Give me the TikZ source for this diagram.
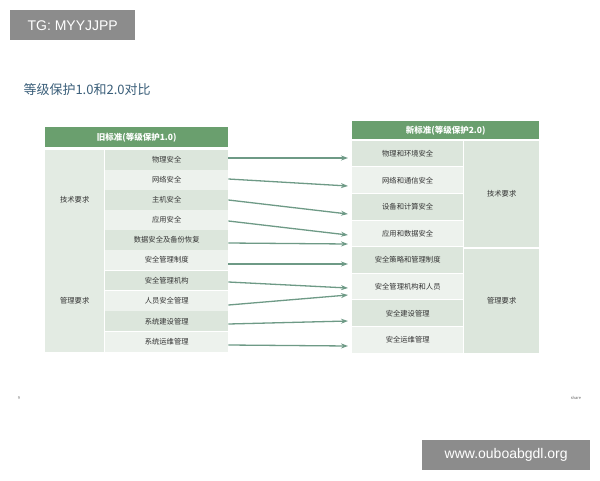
\documentclass[tikz,border=0pt]{standalone}
\usepackage{fontspec}
\setmainfont{Noto Sans CJK SC}
\newfontfamily\marksans{Liberation Sans}
\usetikzlibrary{arrows.meta}
\definecolor{hdgreen}{HTML}{6A9F6E}
\definecolor{rowdark}{HTML}{DCE6DC}
\definecolor{rowlight}{HTML}{EDF2ED}
\definecolor{catgreen}{HTML}{E3EBE3}
\definecolor{arrgreen}{HTML}{6E9A86}
\definecolor{titleblue}{HTML}{3B5F7A}
\tikzset{
  cell/.style={fill=#1, inner sep=0pt, font=\fontsize{7.3}{8}\selectfont, text=black!80},
  head/.style={fill=hdgreen, inner sep=0pt, text=white, font=\bfseries\fontsize{8.5}{9}\selectfont},
  maparrow/.style={-{Stealth[length=7pt,width=5pt]}, arrgreen, line width=1.3pt},
  mark box/.style={fill=black!45, text=white, inner sep=0pt, font=\marksans\fontsize{14}{15}\selectfont}
}
\begin{document}
\begin{tikzpicture}[x=1pt,y=-1pt]
\useasboundingbox (0,0) rectangle (600,480);
\fill[white] (0,0) rectangle (600,480);
\node[mark box, minimum width=125, minimum height=30, anchor=north west] (tg) at (10,10) {TG: MYYJJPP};
\node[mark box, minimum width=168, minimum height=30, anchor=north west] (www) at (422,440) {www.ouboabgdl.org};
\node[anchor=west, text=titleblue, font=\fontsize{13}{14}\selectfont] (title) at (20,90) {等级保护1.0和2.0对比};
\node[font=\fontsize{4}{5}\selectfont, text=black!60] (page) at (19,398) {9};
\node[font=\fontsize{4}{5}\selectfont, text=black!60] (share) at (576,398) {share};
% old standard
\node[head, minimum width=183, minimum height=20, anchor=north west] (oldhead) at (45,127) {旧标准(等级保护1.0)};
\node[cell=catgreen, minimum width=59, minimum height=100, anchor=north west] (oldtech) at (45,150) {技术要求};
\node[cell=catgreen, minimum width=59, minimum height=102, anchor=north west] (oldmgmt) at (45,250) {管理要求};
\foreach \t [count=\i] in {物理安全,网络安全,主机安全,应用安全,数据安全及备份恢复}{
  \pgfmathsetmacro{\c}{mod(\i,2)==1 ? "rowdark" : "rowlight"}
  \node[cell=\c, minimum width=123, minimum height=19.4, anchor=north west] (o\i) at (105,130+20*\i) {\t};
}
\foreach \t [count=\i] in {安全管理制度,安全管理机构,人员安全管理,系统建设管理,系统运维管理}{
  \pgfmathtruncatemacro{\k}{\i+5}
  \pgfmathsetmacro{\c}{mod(\i,2)==0 ? "rowdark" : "rowlight"}
  \node[cell=\c, minimum width=123, minimum height=19.8, anchor=north west] (o\k) at (105,229.6+20.4*\i) {\t};
}
% new standard
\node[head, minimum width=187, minimum height=18, anchor=north west] (newhead) at (352,121) {新标准(等级保护2.0)};
\node[cell=rowdark, minimum width=75, minimum height=106, anchor=north west] (newtech) at (464,141) {技术要求};
\node[cell=rowdark, minimum width=75, minimum height=104, anchor=north west] (newmgmt) at (464,249) {管理要求};
\foreach \t [count=\i] in {物理和环境安全,网络和通信安全,设备和计算安全,应用和数据安全,安全策略和管理制度,安全管理机构和人员,安全建设管理,安全运维管理}{
  \pgfmathsetmacro{\c}{mod(\i,2)==1 ? "rowdark" : "rowlight"}
  \node[cell=\c, minimum width=111, minimum height=25.6, anchor=north west] (n\i) at (352,114+26.6*\i) {\t};
}
% mapping
\foreach \s/\a/\e/\b in {1/158/1/158, 2/179/2/186, 3/200/3/214, 4/221/4/235, 5/243/4/244,
                         6/264/5/264, 7/282/6/288, 8/305/6/295, 9/324/7/321, 10/345/8/346}{
  \coordinate (from\s) at (o\s.east |- 0,\a);
  \coordinate (to\s) at ([xshift=-4]n\e.west |- 0,\b);
  \draw[maparrow] (from\s) -- (to\s);
}
\end{tikzpicture}
\end{document}
